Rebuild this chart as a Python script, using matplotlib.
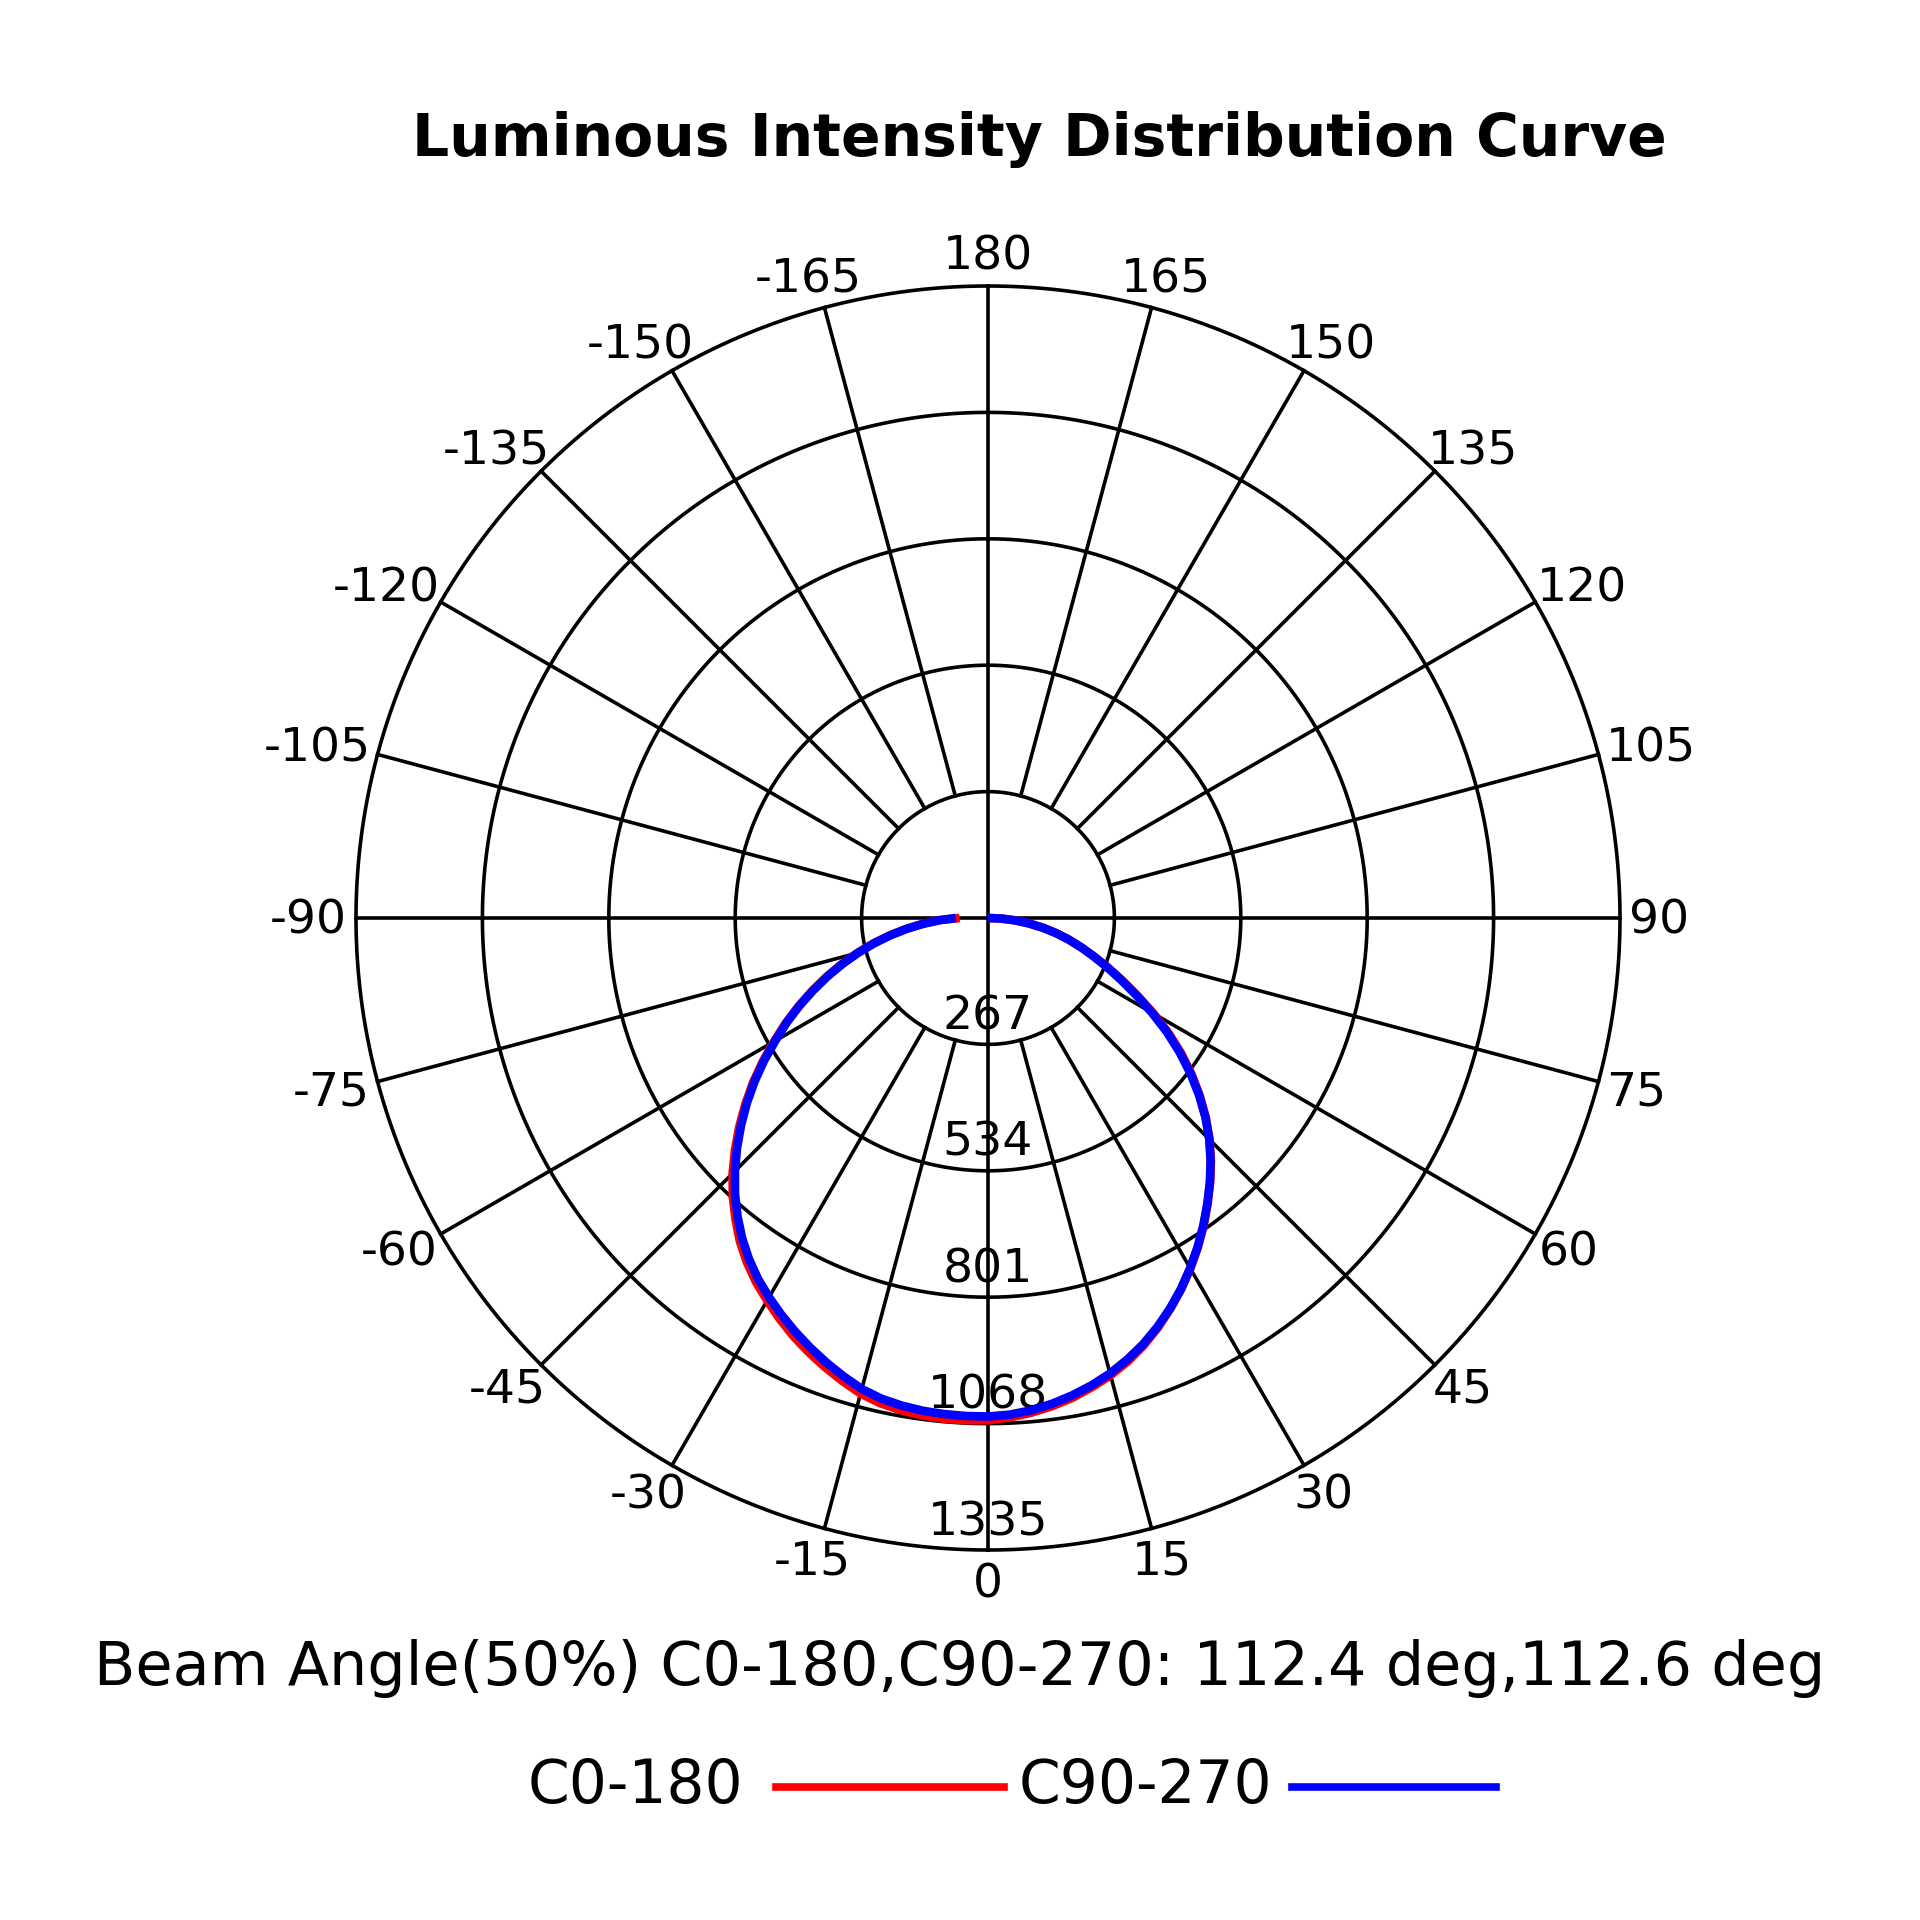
import numpy as np
import matplotlib
matplotlib.use("Agg")
import matplotlib.pyplot as plt
from matplotlib.lines import Line2D

plt.rcParams['font.family'] = ['DejaVu Sans']

# ---- data ----
title = "Luminous Intensity Distribution Curve"
beam_text = "Beam Angle(50%) C0-180,C90-270: 112.4 deg,112.6 deg"
series_names = ["C0-180", "C90-270"]
series_colors = ["#ff0000", "#0000ff"]

angles_deg = [-90, -87.5, -85, -82.5, -80, -77.5, -75, -72.5, -70, -67.5, -65,
              -62.5, -60, -57.5, -55, -52.5, -50, -47.5, -45, -42.5, -40,
              -37.5, -35, -32.5, -30, -27.5, -25, -22.5, -20, -17.5, -15,
              -12.5, -10, -7.5, -5, -2.5, 0, 2.5, 5, 7.5, 10, 12.5, 15, 17.5,
              20, 22.5, 25, 27.5, 30, 32.5, 35, 37.5, 40, 42.5, 45, 47.5, 50,
              52.5, 55, 57.5, 60, 62.5, 65, 67.5, 70, 72.5, 75, 77.5, 80,
              82.5, 85, 87.5, 90]
c0_180 = [60, 102, 137, 173, 210, 248, 286, 324, 363, 402, 442,
          482, 522, 564, 606, 646, 686, 725, 763, 798, 830,
          861, 888, 912, 933, 954, 974, 992, 1009, 1025, 1040,
          1050, 1056, 1060, 1062, 1062, 1061, 1056, 1049, 1040, 1029, 1015, 1000, 982,
          961, 937, 911, 884, 855, 825, 794, 762, 730, 697, 662, 624, 584,
          542, 498, 452, 404, 357, 314, 275, 239, 207, 177, 147, 117,
          87, 58, 29, 0]
c90_270 = [68, 101, 136, 172, 209, 246, 284, 322, 361, 400, 440,
           480, 519, 561, 602, 642, 681, 719, 756, 791, 823,
           853, 880, 904, 925, 945, 964, 982, 999, 1015, 1030,
           1040, 1046, 1050, 1052, 1053, 1053, 1050, 1044, 1035, 1024, 1011, 996, 978,
           958, 935, 910, 883, 854, 824, 793, 761, 729, 696, 661, 623, 582,
           539, 494, 448, 400, 353, 311, 273, 238, 207, 177, 147, 117,
           87, 58, 29, 0]

ring_values = [267, 534, 801, 1068, 1335]
angle_ticks = [-165, -150, -135, -120, -105, -90, -75, -60, -45, -30, -15,
               0, 15, 30, 45, 60, 75, 90, 105, 120, 135, 150, 165, 180]

# ---- figure ----
W = 1920
fig = plt.figure(figsize=(19.2, 19.2), dpi=100)
cxp, cyp, Rp = 988.0, 1920.0 - 918.0, 632.0
cx, cy, R = cxp / W, cyp / W, Rp / W
ax = fig.add_axes([cx - R, cy - R, 2 * R, 2 * R], projection='polar')
ax.set_theta_zero_location('S')
ax.set_theta_direction(1)
rmax = ring_values[-1]
ax.set_ylim(0, rmax)
ax.set_axis_off()

gkw = dict(color='black', lw=2.6, clip_on=False, zorder=1)
tt = np.linspace(0, 2 * np.pi, 721)
for rv in ring_values:
    ax.plot(tt, np.full_like(tt, rv), **gkw)

for a in range(-165, 181, 15):
    if a % 90 == 0:
        continue
    ax.plot([np.radians(a)] * 2, [ring_values[0], rmax], **gkw)
for a in (0, 90, 180, -90):
    ax.plot([np.radians(a)] * 2, [0, rmax], **gkw)

fs = 34
renderer = fig.canvas.get_renderer()
gx, gy = 9.0, 4.0
for a in angle_ticks:
    t = fig.text(0, 0, str(a), ha='center', va='center', fontsize=fs, zorder=3)
    bb = t.get_window_extent(renderer)
    hw, hh = bb.width / 2, bb.height / 2
    s, c = np.sin(np.radians(a)), np.cos(np.radians(a))
    x = cxp + Rp * s + s * (hw + gx)
    y = cyp - Rp * c - c * (hh + gy) - (3 + 5 * c)
    t.set_position((x / W, y / W))

for rv in ring_values:
    ax.text(0, rv - 58, str(rv), ha='center', va='center', fontsize=fs, zorder=3)

th = np.radians(angles_deg)
ax.plot(th, c0_180, color=series_colors[0], lw=6.2, clip_on=False, zorder=4,
        solid_joinstyle='round', solid_capstyle='butt')
ax.plot(th, c90_270, color=series_colors[1], lw=6.2, clip_on=False, zorder=5,
        solid_joinstyle='round', solid_capstyle='butt')

fig.text(1039 / W, 1 - 140 / W, title, ha='center', va='center',
         fontsize=42, fontweight='bold')
fig.text(960 / W, 1 - 1668 / W, beam_text, ha='center', va='center', fontsize=43.5)

ly = 1 - 1787 / W
fig.text(743 / W, ly, series_names[0], ha='right', va='center', fontsize=43)
fig.add_artist(Line2D([776 / W, 1004 / W], [ly, ly], color=series_colors[0], lw=5.5))
fig.text(1019 / W, ly, series_names[1], ha='left', va='center', fontsize=43)
fig.add_artist(Line2D([1292 / W, 1496 / W], [ly, ly], color=series_colors[1], lw=5.5))

fig.savefig("out.png", dpi=100, facecolor='white')
